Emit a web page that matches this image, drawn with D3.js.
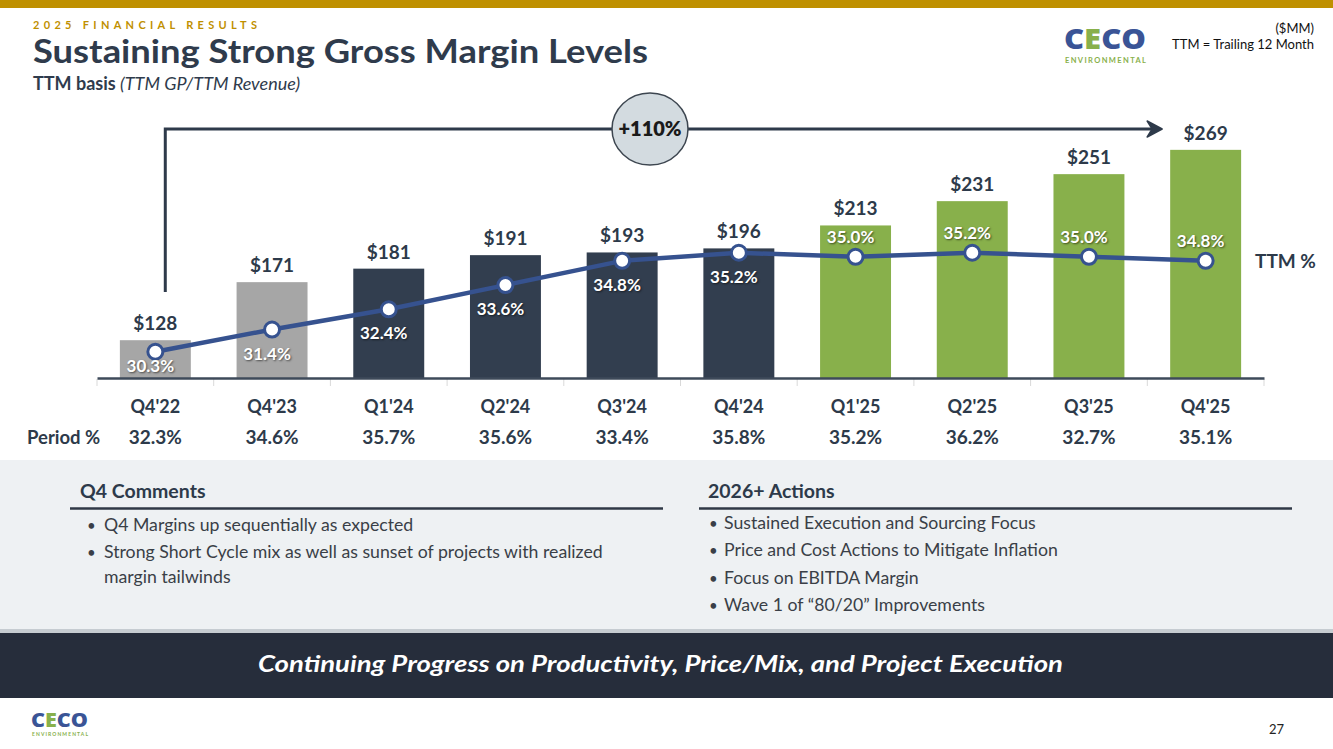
<!DOCTYPE html>
<html><head><meta charset="utf-8">
<script src="https://cdn.jsdelivr.net/npm/d3@7/dist/d3.min.js"></script>
<style>
html,body{margin:0;padding:0;background:#fff;}
svg{display:block;font-family:Lato,"Open Sans",sans-serif;}
</style></head><body>
<svg id="c" width="1333" height="749"></svg>
<script>
// ---------- DATA ----------
const categories = ["Q4'22","Q4'23","Q1'24","Q2'24","Q3'24","Q4'24","Q1'25","Q2'25","Q3'25","Q4'25"];
const revenueTTM = [128,171,181,191,193,196,213,231,251,269];      // $MM bar labels
const ttmPct     = [30.3,31.4,32.4,33.6,34.8,35.2,35.0,35.2,35.0,34.8];
const periodPct  = [32.3,34.6,35.7,35.6,33.4,35.8,35.2,36.2,32.7,35.1];
const barGroup   = ["hist","hist","y24","y24","y24","y24","y25","y25","y25","y25"];
const growthLabel = "+110%";
const q4Comments = [
  ["Q4 Margins up sequentially as expected"],
  ["Strong Short Cycle mix as well as sunset of projects with realized","margin tailwinds"]
];
const actions2026 = [
  "Sustained Execution and Sourcing Focus",
  "Price and Cost Actions to Mitigate Inflation",
  "Focus on EBITDA Margin",
  "Wave 1 of \u201C80/20\u201D Improvements"
];

// ---------- STYLE ----------
const C = {
  gold:"#bf9000", navy:"#2f3b4c", text:"#2d3a4a", gray:"#a6a6a6", bar24:"#323e4f",
  green:"#88b04b", line:"#36528f", panel:"#eef1f3", banner:"#262d3b", body:"#3a3f47",
  logoBlue:"#3a5496"
};
const groupColor = {hist:C.gray, y24:C.bar24, y25:C.green};

const svg = d3.select("#c");

// Top gold band
svg.append("rect").attr("x",0).attr("y",0).attr("width",1333).attr("height",8).attr("fill",C.gold);

// Header texts
svg.append("text").attr("x",33).attr("y",28.5).attr("fill",C.gold)
  .attr("font-size",11).attr("font-weight",700).attr("textLength",224).attr("lengthAdjust","spacing")
  .text("2025 FINANCIAL RESULTS");
svg.append("text").attr("x",33).attr("y",63).attr("fill",C.navy)
  .attr("font-size",33).attr("font-weight",700).attr("textLength",615).attr("lengthAdjust","spacingAndGlyphs")
  .text("Sustaining Strong Gross Margin Levels");
const sub = svg.append("text").attr("x",33).attr("y",90).attr("fill",C.navy).attr("font-size",18);
sub.append("tspan").attr("font-weight",700).text("TTM basis ");
sub.append("tspan").attr("font-style","italic").text("(TTM GP/TTM Revenue)");

// Logos
function logo(x, y, w, fs, subFs, subDy){
  const t = svg.append("text").attr("x",x).attr("y",y).attr("font-size",fs).attr("font-weight",900)
    .attr("textLength",w).attr("lengthAdjust","spacingAndGlyphs")
    .style("font-family","'Open Sans',Lato,sans-serif");
  [["C",C.logoBlue],["E",C.green],["C",C.logoBlue],["O",C.logoBlue]].forEach(([ch,col])=>t.append("tspan").attr("fill",col).text(ch));
  svg.append("text").attr("x",x+1).attr("y",y+subDy).attr("font-size",subFs).attr("font-weight",700)
    .attr("fill",C.green).attr("textLength",w-1).attr("lengthAdjust","spacing").text("ENVIRONMENTAL");
}
logo(1064,49,82,28,7.5,14);
logo(31,727,57,19.5,5,9);

svg.append("text").attr("x",1314).attr("y",33).attr("text-anchor","end").attr("font-size",13).attr("fill","#111").text("($MM)");
svg.append("text").attr("x",1314).attr("y",49).attr("text-anchor","end").attr("font-size",13).attr("fill","#111").text("TTM = Trailing 12 Month");

// ---------- CHART ----------
const x = d3.scaleBand().domain(categories).range([97,1264]).paddingInner(0.392).paddingOuter(0.196);
const bw = x.bandwidth();
const cx = c => x(c) + bw/2;
const yBar = d3.scaleLinear().domain([100,300]).range([378,108]);
const yPct = d3.scaleLinear().domain([29,36]).range([378,236.6]);

// bars
svg.append("g").selectAll("rect").data(categories).join("rect")
  .attr("x",d=>x(d)).attr("width",bw)
  .attr("y",(d,i)=>yBar(revenueTTM[i])).attr("height",(d,i)=>yBar(100)-yBar(revenueTTM[i]))
  .attr("fill",(d,i)=>groupColor[barGroup[i]]);

// bar value labels
svg.append("g").selectAll("text").data(categories).join("text")
  .attr("x",d=>cx(d)).attr("y",(d,i)=>yBar(revenueTTM[i])-10)
  .attr("text-anchor","middle").attr("font-size",19).attr("font-weight",700).attr("fill",C.text)
  .text((d,i)=>"$"+revenueTTM[i]);

// band boundary ticks
const step = x.step();
svg.append("g").selectAll("line").data(d3.range(categories.length+1)).join("line")
  .attr("x1",k=>cx(categories[0])-step/2+k*step).attr("x2",k=>cx(categories[0])-step/2+k*step)
  .attr("y1",379).attr("y2",386).attr("stroke","#d9d9d9").attr("stroke-width",1);

// axis
const ax = svg.append("g").attr("transform","translate(0,378)")
  .call(d3.axisBottom(x).tickSize(0).tickSizeOuter(0).tickPadding(22));
ax.select(".domain").attr("stroke","#3e4a5a").attr("stroke-width",2.5);
ax.selectAll("text").attr("font-size",18).attr("font-weight",700).attr("fill",C.text)
  .style("font-family","Lato,'Open Sans',sans-serif");

// period % row
svg.append("text").attr("x",27).attr("y",444).attr("font-size",18.5).attr("font-weight",700).attr("fill",C.text).text("Period %");
svg.append("g").selectAll("text").data(categories).join("text")
  .attr("x",d=>cx(d)).attr("y",444).attr("text-anchor","middle")
  .attr("font-size",19).attr("font-weight",700).attr("fill",C.text)
  .text((d,i)=>periodPct[i].toFixed(1)+"%");

// TTM line
const line = d3.line().x((d,i)=>cx(categories[i])).y(d=>yPct(d));
svg.append("path").datum(ttmPct).attr("d",line).attr("fill","none")
  .attr("stroke",C.line).attr("stroke-width",4.5).attr("stroke-linejoin","round");
svg.append("g").selectAll("circle").data(ttmPct).join("circle")
  .attr("cx",(d,i)=>cx(categories[i])).attr("cy",d=>yPct(d)).attr("r",7.5)
  .attr("fill","#fff").attr("stroke",C.line).attr("stroke-width",3);

// TTM labels
svg.append("g").selectAll("text").data(ttmPct).join("text")
  .attr("x",(d,i)=>cx(categories[i])-5)
  .attr("y",(d,i)=> barGroup[i]==="y25" ? yPct(d)-14 : yPct(d)+(i===0?20:30))
  .attr("text-anchor","middle").attr("font-size",17).attr("font-weight",700).attr("fill","#fff")
  .style("text-shadow","1px 1px 2px rgba(0,0,0,0.55)")
  .text(d=>d.toFixed(1)+"%");

svg.append("text").attr("x",1255).attr("y",268).attr("font-size",19).attr("font-weight",700).attr("fill",C.text).text("TTM %");

// Growth bracket arrow
const bx = x(categories[0]) + bw*0.64;
const ay = 129;
const tipX = x(categories[categories.length-1]) - 8;
svg.append("path").attr("d",`M${bx},292 V${ay} H${tipX-6}`).attr("fill","none")
  .attr("stroke","#2e3a4a").attr("stroke-width",3);
svg.append("path").attr("d",`M${tipX},${ay} L${tipX-15},${ay-8} L${tipX-10},${ay} L${tipX-15},${ay+8} Z`)
  .attr("fill","#2e3a4a").attr("stroke","#2e3a4a").attr("stroke-width",1.5).attr("stroke-linejoin","round");
svg.append("ellipse").attr("cx",650).attr("cy",ay).attr("rx",38).attr("ry",36)
  .attr("fill","#d3dbe0").attr("stroke","#3d4650").attr("stroke-width",1.5);
svg.append("text").attr("x",650).attr("y",ay+7).attr("text-anchor","middle")
  .attr("font-size",20).attr("font-weight",800).attr("fill","#1a1a1a").text(growthLabel);

// ---------- LOWER PANEL ----------
svg.append("rect").attr("x",0).attr("y",460).attr("width",1333).attr("height",171).attr("fill",C.panel);
svg.append("rect").attr("x",0).attr("y",629).attr("width",1333).attr("height",4).attr("fill","#c6ccd1");
svg.append("rect").attr("x",0).attr("y",633).attr("width",1333).attr("height",65).attr("fill",C.banner);
svg.append("text").attr("x",258).attr("y",672).attr("font-size",23).attr("font-weight",700).attr("font-style","italic")
  .attr("fill","#fff").attr("textLength",805).attr("lengthAdjust","spacingAndGlyphs")
  .text("Continuing Progress on Productivity, Price/Mix, and Project Execution");

function section(title, tx, lx1, lx2){
  svg.append("text").attr("x",tx).attr("y",498).attr("font-size",19.5).attr("font-weight",700).attr("fill",C.text).text(title);
  svg.append("line").attr("x1",lx1).attr("x2",lx2).attr("y1",508.5).attr("y2",508.5).attr("stroke","#2f3846").attr("stroke-width",2.5);
}
section("Q4 Comments",80,70,663);
section("2026+ Actions",708,699,1292);

function bullets(items, bxp, txp, ys){
  items.forEach((lines,i)=>{
    svg.append("text").attr("x",bxp).attr("y",ys[i][0]).attr("font-size",15).attr("fill",C.body).text("\u2022");
    lines.forEach((ln,j)=>svg.append("text").attr("x",txp).attr("y",ys[i][j]).attr("font-size",17.7).attr("fill",C.body).text(ln));
  });
}
bullets(q4Comments, 87, 104, [[531],[558,583]]);
bullets(actions2026.map(d=>[d]), 709, 724, [[529],[556],[584],[611]]);

svg.append("text").attr("x",1284).attr("y",734).attr("text-anchor","end").attr("font-size",13).attr("fill","#222").text("27");
</script>
</body></html>
